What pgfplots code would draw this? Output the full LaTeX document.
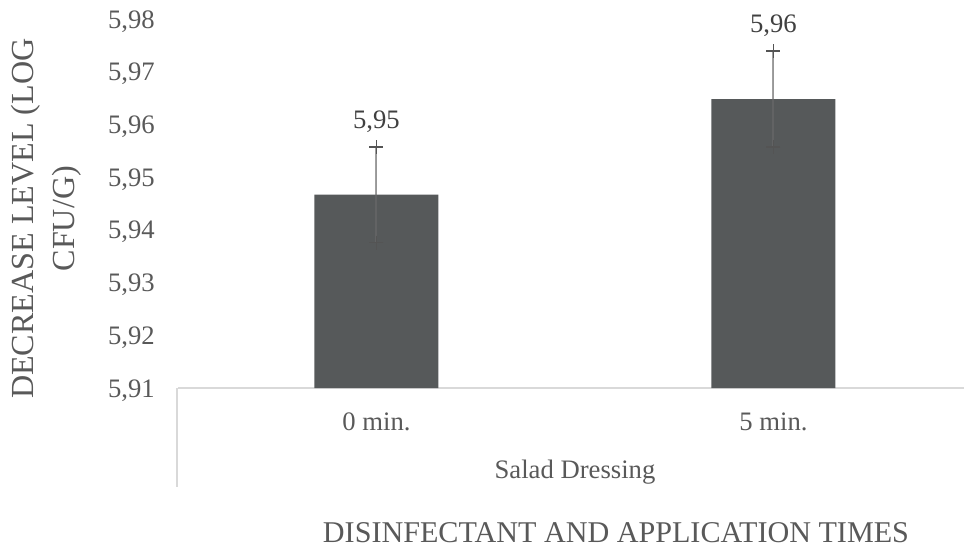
\documentclass[border=0pt]{standalone}
\usepackage{pgfplots}
\pgfplotsset{compat=1.18}
\usepackage{fontspec}
\setmainfont{Liberation Serif}
\definecolor{barc}{RGB}{86,89,90}
\definecolor{txt}{RGB}{89,89,89}
\definecolor{valtxt}{RGB}{64,64,64}
\definecolor{axc}{RGB}{217,217,217}
\definecolor{errc}{RGB}{106,106,106}
\definecolor{capc}{RGB}{84,84,84}
\begin{document}
\begin{tikzpicture}
\useasboundingbox (-133.5pt,-119.25pt) rectangle (589.5pt,291pt);
\begin{axis}[
  at={(0,0)}, anchor=south west,
  scale only axis, width=589.5pt, height=276.75pt,
  xmin=-0.5, xmax=1.48, ymin=5.91, ymax=5.98,
  ytick={5.91,5.92,5.93,5.94,5.95,5.96,5.97,5.98},
  xtick={0,1}, xticklabels={0 min., 5 min.},
  axis x line*=bottom, axis y line*=left,
  x axis line style={draw=axc, line width=1.5pt},
  y axis line style={draw=none},
  major tick length=0pt,
  tick label style={font=\fontsize{20}{24}\selectfont, text=txt},
  yticklabel style={anchor=base east, inner sep=0pt, xshift=-17.25pt, yshift=-6.76pt,
    /pgf/number format/.cd, fixed, fixed zerofill, precision=2, use comma, assume math mode=true},
  xticklabel style={anchor=base, inner sep=0pt, yshift=-31.5pt},
  clip=true,
]
\addplot[ybar, bar width=0.3123, fill=barc, draw=none,
  nodes near coords={\pgfmathprintnumber[fixed, fixed zerofill, precision=2, use comma, assume math mode=true]{\pgfplotspointmeta}},
  nodes near coords style={font=\fontsize{20}{24}\selectfont, text=valtxt, anchor=base, inner sep=0pt, yshift=49.6pt},
  error bars/.cd, y dir=both, y explicit,
  error bar style={draw=errc, draw opacity=0.64, line width=1.5pt},
  error mark=+,
  error mark options={draw=capc, draw opacity=1, mark size=5.25pt, line width=1.4pt}]
  coordinates {(0,5.9467) +- (0,0.0091) (1,5.9648) +- (0,0.0091)};
\end{axis}
\draw[axc, line width=1.1pt] (-0.75pt,0) -- (-0.75pt,-74.25pt);
\node[anchor=base, text=txt, font=\fontsize{20}{24}\selectfont, inner sep=0pt] at (297.75pt,-67.5pt) {Salad Dressing};
\node[anchor=base, text=txt, font=\fontsize{22.6}{27}\selectfont, inner sep=0pt] at (328.5pt,-115.5pt) {DISINFECTANT AND APPLICATION TIMES};
\node[rotate=90, anchor=base, text=txt, font=\fontsize{24.1}{28}\selectfont, inner sep=0pt] at (-108pt,127pt) {DECREASE LEVEL (LOG};
\node[rotate=90, anchor=base, text=txt, font=\fontsize{24.1}{28}\selectfont, inner sep=0pt] at (-77.25pt,127pt) {CFU/G)};
\end{tikzpicture}
\end{document}
